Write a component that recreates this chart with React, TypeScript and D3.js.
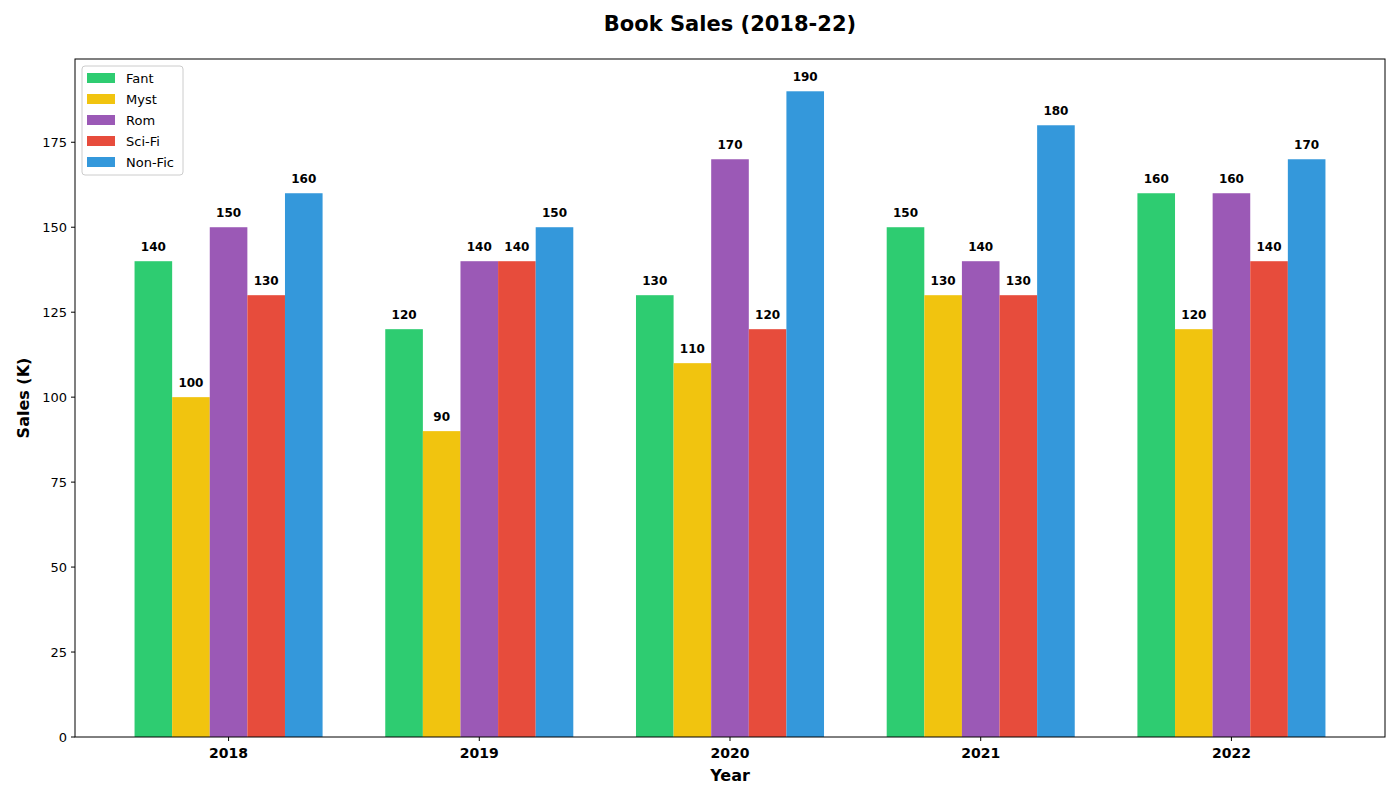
import * as d3 from "d3";

const years = ["2018", "2019", "2020", "2021", "2022"];
const genres = ["Fant", "Myst", "Rom", "Sci-Fi", "Non-Fic"];
const colors = ["#2ecc71", "#f1c40f", "#9b59b6", "#e74c3c", "#3498db"];
const fant = [140, 120, 130, 150, 160];
const myst = [100, 90, 110, 130, 120];
const rom = [150, 140, 170, 140, 160];
const scifi = [130, 140, 120, 130, 140];
const nonfic = [160, 150, 190, 180, 170];
const series = [fant, myst, rom, scifi, nonfic];
const yTicks = [0, 25, 50, 75, 100, 125, 150, 175];

const W = 1400, H = 800;
const L = 75, R = 1385, T = 59, B = 737;
const BW = 0.15;
const FONT = "DejaVu Sans, sans-serif";

export default function App() {
  const x = d3.scaleLinear().domain([-0.6125, 4.6125]).range([L, R]);
  const y = d3.scaleLinear().domain([0, 199.5]).range([B, T]);
  const bw = x(BW) - x(0);

  return (
    <svg width={W} height={H} style={{ position: "absolute", left: 0, top: 0, background: "#fff" }} fontFamily={FONT}>
      <text x={730} y={31} textAnchor="middle" fontSize={21} fontWeight="bold">Book Sales (2018-22)</text>
      {series.map((vals, s) =>
        vals.map((v, i) => {
          const cx = x(i + (s - 2) * BW);
          return (
            <g key={`${s}-${i}`}>
              <rect x={cx - bw / 2} y={y(v)} width={bw} height={B - y(v)} fill={colors[s]} />
              <text x={cx} y={y(v) - 10} textAnchor="middle" fontSize={12} fontWeight="bold">{v}</text>
            </g>
          );
        })
      )}
      <rect x={L} y={T} width={R - L} height={B - T} fill="none" stroke="#000" strokeWidth={1} />
      {yTicks.map((t) => (
        <g key={t}>
          <line x1={L - 4} x2={L} y1={y(t)} y2={y(t)} stroke="#000" />
          <text x={L - 8} y={y(t) + 4.5} textAnchor="end" fontSize={13}>{t}</text>
        </g>
      ))}
      {years.map((yr, i) => (
        <g key={yr}>
          <line x1={x(i)} x2={x(i)} y1={B} y2={B + 4} stroke="#000" />
          <text x={x(i)} y={B + 21} textAnchor="middle" fontSize={14} fontWeight="bold">{yr}</text>
        </g>
      ))}
      <text x={730} y={781} textAnchor="middle" fontSize={16} fontWeight="bold">Year</text>
      <text transform={`translate(29,${(T + B) / 2}) rotate(-90)`} textAnchor="middle" fontSize={16} fontWeight="bold">Sales (K)</text>
      <rect x={82} y={66} width={101} height={109} rx={3} fill="#fff" fillOpacity={0.8} stroke="#ccc" />
      {genres.map((g, i) => (
        <g key={g}>
          <rect x={87} y={73 + i * 21} width={28} height={10} fill={colors[i]} />
          <text x={126} y={82.5 + i * 21} fontSize={13}>{g}</text>
        </g>
      ))}
    </svg>
  );
}
